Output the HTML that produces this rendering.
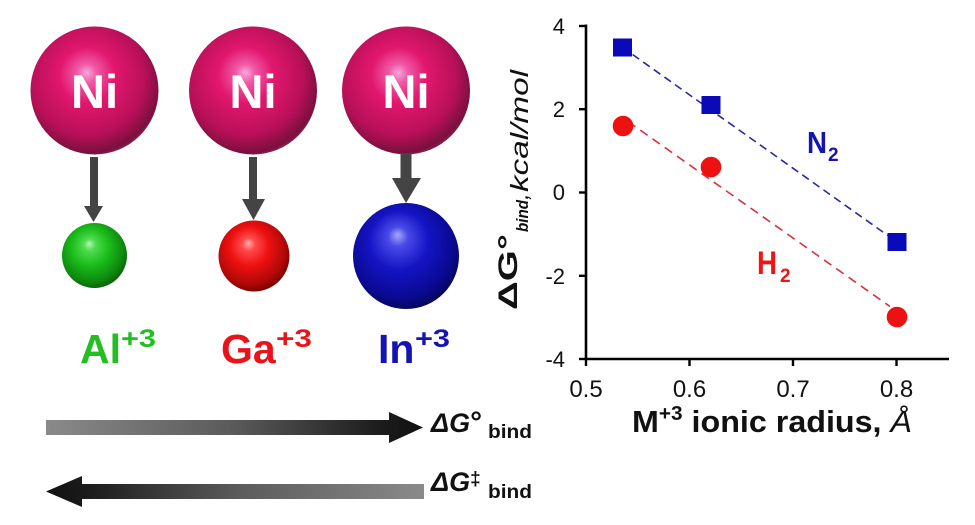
<!DOCTYPE html>
<html>
<head>
<meta charset="utf-8">
<style>
html,body{margin:0;padding:0;background:#fff;}
svg{display:block;}
text{font-family:"Liberation Sans",Arial,sans-serif;}
</style>
</head>
<body>
<svg width="975" height="525" viewBox="0 0 975 525" xmlns="http://www.w3.org/2000/svg">
<defs>
  <radialGradient id="gNi" cx="0.45" cy="0.42" r="0.62" fx="0.44" fy="0.36">
    <stop offset="0" stop-color="#f8a8dc"/>
    <stop offset="0.12" stop-color="#f05aa6"/>
    <stop offset="0.35" stop-color="#e2176e"/>
    <stop offset="0.72" stop-color="#b81058"/>
    <stop offset="0.92" stop-color="#7a103e"/>
    <stop offset="1" stop-color="#9a2a60"/>
  </radialGradient>
  <radialGradient id="gGreen" cx="0.45" cy="0.42" r="0.62" fx="0.42" fy="0.32">
    <stop offset="0" stop-color="#b0f8b0"/>
    <stop offset="0.15" stop-color="#50dc50"/>
    <stop offset="0.45" stop-color="#1cbf1c"/>
    <stop offset="0.8" stop-color="#0e8a0e"/>
    <stop offset="1" stop-color="#0a5a0a"/>
  </radialGradient>
  <radialGradient id="gRed" cx="0.45" cy="0.42" r="0.62" fx="0.42" fy="0.32">
    <stop offset="0" stop-color="#ffb0b0"/>
    <stop offset="0.15" stop-color="#ff4a4a"/>
    <stop offset="0.45" stop-color="#ee1010"/>
    <stop offset="0.8" stop-color="#b00808"/>
    <stop offset="1" stop-color="#6a0000"/>
  </radialGradient>
  <radialGradient id="gBlue" cx="0.45" cy="0.42" r="0.62" fx="0.42" fy="0.3">
    <stop offset="0" stop-color="#a8a8ff"/>
    <stop offset="0.15" stop-color="#4a4ae8"/>
    <stop offset="0.45" stop-color="#1414c4"/>
    <stop offset="0.8" stop-color="#0a0a92"/>
    <stop offset="1" stop-color="#05054e"/>
  </radialGradient>
  <linearGradient id="gArr1" x1="46" y1="0" x2="423" y2="0" gradientUnits="userSpaceOnUse">
    <stop offset="0" stop-color="#8a8a8a"/>
    <stop offset="0.5" stop-color="#5a5a5a"/>
    <stop offset="0.9" stop-color="#1a1a1a"/>
    <stop offset="1" stop-color="#111"/>
  </linearGradient>
  <linearGradient id="gArr2" x1="46" y1="0" x2="424" y2="0" gradientUnits="userSpaceOnUse">
    <stop offset="0" stop-color="#111"/>
    <stop offset="0.1" stop-color="#1a1a1a"/>
    <stop offset="0.5" stop-color="#5a5a5a"/>
    <stop offset="1" stop-color="#8a8a8a"/>
  </linearGradient>
</defs>

<!-- Left: Ni spheres -->
<circle cx="94.5" cy="90.5" r="64" fill="url(#gNi)"/>
<circle cx="253" cy="90.5" r="64" fill="url(#gNi)"/>
<circle cx="406" cy="90.5" r="64" fill="url(#gNi)"/>
<text x="94.5" y="108" font-size="47" font-weight="bold" fill="#fff" text-anchor="middle">Ni</text>
<text x="253" y="108" font-size="47" font-weight="bold" fill="#fff" text-anchor="middle">Ni</text>
<text x="406" y="108" font-size="47" font-weight="bold" fill="#fff" text-anchor="middle">Ni</text>

<!-- down arrows -->
<rect x="90" y="157" width="8" height="50" fill="#444"/>
<polygon points="84,206 103,206 93.5,222" fill="#444"/>
<rect x="249" y="157" width="8" height="43" fill="#444"/>
<polygon points="242,199 265,199 253.5,220" fill="#444"/>
<rect x="400.5" y="153" width="11" height="26" fill="#444"/>
<polygon points="392,178 421,178 406,203" fill="#444"/>

<!-- small spheres -->
<circle cx="94.5" cy="255.5" r="32.5" fill="url(#gGreen)"/>
<circle cx="254" cy="256" r="35.5" fill="url(#gRed)"/>
<circle cx="406" cy="256" r="53" fill="url(#gBlue)"/>

<!-- ion labels -->
<text x="80" y="363" font-size="41" font-weight="bold" fill="#22bf22">Al</text>
<text x="121" y="347" font-size="25" font-weight="bold" fill="#22bf22" textLength="35" lengthAdjust="spacingAndGlyphs">+3</text>
<text x="221" y="363" font-size="41" font-weight="bold" fill="#e8141c">Ga</text>
<text x="276" y="347" font-size="25" font-weight="bold" fill="#e8141c" textLength="36" lengthAdjust="spacingAndGlyphs">+3</text>
<text x="378" y="363" font-size="41" font-weight="bold" fill="#1414b4">In</text>
<text x="415" y="347" font-size="25" font-weight="bold" fill="#1414b4" textLength="35" lengthAdjust="spacingAndGlyphs">+3</text>

<!-- bottom arrows -->
<rect x="46" y="420" width="344" height="15" fill="url(#gArr1)"/>
<polygon points="389,412 423,427.5 389,443" fill="url(#gArr1)"/>
<rect x="81" y="484" width="343" height="15" fill="url(#gArr2)"/>
<polygon points="82,476 46,491.5 82,507" fill="url(#gArr2)"/>

<text x="431" y="432" font-size="27" font-weight="bold" font-style="italic" fill="#111">ΔG<tspan font-size="30" font-style="normal">°</tspan></text>
<text x="488" y="438" font-size="19" font-weight="bold" fill="#111" textLength="44" lengthAdjust="spacingAndGlyphs">bind</text>
<text x="431" y="491" font-size="27" font-weight="bold" font-style="italic" fill="#111">ΔG<tspan font-size="19" font-style="normal" dy="-6">‡</tspan></text>
<text x="488" y="498" font-size="19" font-weight="bold" fill="#111" textLength="44" lengthAdjust="spacingAndGlyphs">bind</text>

<!-- Plot axes -->
<line x1="586" y1="24.5" x2="586" y2="360" stroke="#000" stroke-width="2.6"/>
<line x1="584.7" y1="359" x2="949" y2="359" stroke="#000" stroke-width="2.6"/>
<g stroke="#000" stroke-width="2.4">
  <line x1="579" y1="26" x2="586" y2="26"/>
  <line x1="579" y1="109.2" x2="586" y2="109.2"/>
  <line x1="579" y1="192.5" x2="586" y2="192.5"/>
  <line x1="579" y1="275.8" x2="586" y2="275.8"/>
  <line x1="579" y1="359" x2="586" y2="359"/>
  <line x1="586" y1="359" x2="586" y2="366"/>
  <line x1="689.5" y1="359" x2="689.5" y2="366"/>
  <line x1="793" y1="359" x2="793" y2="366"/>
  <line x1="896.5" y1="359" x2="896.5" y2="366"/>
</g>
<g font-size="22" fill="#111" text-anchor="end">
  <text x="565" y="34">4</text>
  <text x="565" y="117">2</text>
  <text x="565" y="200">0</text>
  <text x="565" y="284">-2</text>
  <text x="565" y="367">-4</text>
</g>
<g font-size="24" fill="#111" text-anchor="middle">
  <text x="586" y="397">0.5</text>
  <text x="689.5" y="397">0.6</text>
  <text x="793" y="397">0.7</text>
  <text x="896.5" y="397">0.8</text>
</g>

<!-- x title -->
<text x="632" y="432" font-size="31" fill="#111" textLength="280" lengthAdjust="spacingAndGlyphs"><tspan font-weight="bold">M</tspan><tspan font-weight="bold" font-size="20" dy="-12">+3</tspan><tspan font-weight="bold" dy="12"> ionic radius, </tspan><tspan font-style="italic">Å</tspan></text>

<!-- y title (rotated) -->
<text transform="translate(517,310) rotate(-90)" font-size="27" font-weight="bold" fill="#111" textLength="76" lengthAdjust="spacingAndGlyphs">ΔG°</text>
<text transform="translate(528,232) rotate(-90)" font-size="17" font-weight="bold" font-style="italic" fill="#111" textLength="32" lengthAdjust="spacingAndGlyphs">bind</text>
<text transform="translate(528,200) rotate(-90)" font-size="24" font-style="italic" fill="#111">,</text>
<text transform="translate(528,192) rotate(-90)" font-size="25" font-style="italic" fill="#111" textLength="122" lengthAdjust="spacingAndGlyphs">kcal/mol</text>

<!-- dashed fit lines -->
<line x1="622" y1="47" x2="897" y2="242" stroke="#2a2aa0" stroke-width="1.6" stroke-dasharray="8 5"/>
<line x1="628" y1="121.5" x2="890" y2="306.5" stroke="#d83040" stroke-width="1.6" stroke-dasharray="9 6"/>

<!-- markers -->
<g fill="#0a0ab8">
  <rect x="613" y="38.5" width="19" height="18"/>
  <rect x="701.5" y="96" width="19" height="18"/>
  <rect x="887.5" y="233" width="19" height="18"/>
</g>
<g fill="#ee1111">
  <circle cx="623" cy="126" r="10.3"/>
  <circle cx="711" cy="167" r="10.3"/>
  <circle cx="897" cy="317" r="10.3"/>
</g>

<!-- series labels -->
<text x="807" y="153" font-size="31" font-weight="bold" fill="#1414b0" textLength="20" lengthAdjust="spacingAndGlyphs">N</text>
<text x="828" y="161" font-size="19" font-weight="bold" fill="#1414b0">2</text>
<text x="757" y="274" font-size="32" font-weight="bold" fill="#ee1515" textLength="20" lengthAdjust="spacingAndGlyphs">H</text>
<text x="780" y="282" font-size="19" font-weight="bold" fill="#ee1515">2</text>
</svg>
</body>
</html>
